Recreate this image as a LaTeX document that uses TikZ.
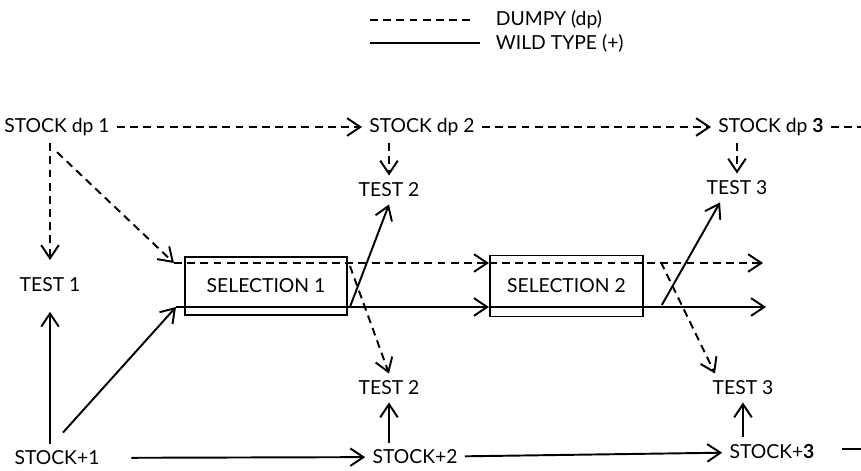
\documentclass[tikz,border=0pt]{standalone}
\usepackage{fontspec}
\setmainfont{Lato}
\usepackage{tikz}
\usetikzlibrary{arrows.meta, positioning, calc}

\begin{document}
\begin{tikzpicture}[x=0.02cm, y=-0.02cm,
    >={Straight Barb[length=7.5pt, width=10pt]},
    font=\fontsize{11}{13}\selectfont,
    dp/.style={line width=1.1pt, dash pattern=on 4.5pt off 3pt},
    wt/.style={line width=1.1pt},
    stocklbl/.style={inner sep=4pt},
    testlbl/.style={inner sep=4pt},
    selbox/.style={draw, line width=1.1pt, inner sep=0pt}]

  \useasboundingbox (0,0) rectangle (861,470);

  \node[inner sep=2pt, anchor=west] (dumpy) at (492,20) {DUMPY (dp)};
  \node[inner sep=2pt, anchor=west] (wild) at (492,43) {WILD TYPE (+)};
  \coordinate (legdp) at (370,20);
  \coordinate (legwt) at (370,43);

  \node[stocklbl] (sdp1) at (57,127) {STOCK dp 1};
  \node[stocklbl] (sdp2) at (422,127) {STOCK dp 2};
  \node[stocklbl] (sdp3) at (771,127) {STOCK dp \textbf{3}};

  \node[stocklbl] (sp1) at (57,458) {STOCK+1};
  \node[stocklbl] (sp2) at (415,457) {STOCK+2};
  \node[stocklbl] (sp3) at (772,452) {STOCK+\textbf{3}};

  \node[testlbl] (test1) at (50,285) {TEST 1};
  \node[testlbl] (test2a) at (389,190) {TEST 2};
  \node[testlbl] (test2b) at (389,388) {TEST 2};
  \node[testlbl] (test3a) at (737,188) {TEST 3};
  \node[testlbl] (test3b) at (743,388) {TEST 3};

  \node[selbox, minimum width=3.24cm, minimum height=1.16cm]
        (sel1) at (266,286) {SELECTION 1};
  \node[selbox, minimum width=3.06cm, minimum height=1.22cm,
        right=2.82cm of sel1] (sel2) {SELECTION 2};

  \coordinate (dpbend) at (174,263);
  \coordinate (wtbend) at (176,307);
  \coordinate (dpend) at (763,263);
  \coordinate (wtend) at (766,307);
  \coordinate (dprim) at (861,127);
  \coordinate (wtrim) at (861,449);

  \draw[dp] (legdp) -- ($(dumpy.west)+(-17,0)$);
  \draw[wt] (legwt) -- ($(wild.west)+(-12,0)$);

  \draw[dp, ->] (sdp1) -- (sdp2);
  \draw[dp, ->] (sdp2) -- (sdp3);
  \draw[dp] (sdp3) -- (dprim);
  \draw[dp, ->, shorten >=6pt] (test1.north |- sdp1.south) -- (test1.north);
  \draw[dp, ->] ($(sdp1.south)+(0,9)$) -- (dpbend);
  \draw[dp, ->] (test2a.north |- sdp2.south) -- (test2a.north);
  \draw[dp, ->] (test3a.north |- sdp3.south) -- (test3a.north);

  \draw[dp, ->] (dpbend) -- (dpbend -| sel2.west);
  \draw[dp, ->] (dpbend -| sel2.west) -- (dpend);
  \draw[wt, ->] (wtbend) -- (wtbend -| sel2.west);
  \draw[wt, ->] (wtbend -| sel2.west) -- (wtend);

  \draw[wt, ->, shorten >=7pt] (test1.south |- sp1.north) -- (test1.south);
  \draw[wt, ->] ($(sp1.north)+(6,-11)$) -- (wtbend);
  \draw[wt, ->, shorten <=14pt] (sp1) -- (sp2);
  \draw[wt, ->] (sp2) -- (sp3);
  \draw[wt] ($(sp3.east |- wtrim)+(20,0)$) -- (wtrim);
  \draw[wt, ->] (test2b.south |- sp2.north) -- (test2b.south);
  \draw[wt, ->] (test3b.south |- sp3.north) -- (test3b.south);

  \draw[wt, ->] ($(sel1.east |- wtbend)+(2,0)$) -- (test2a.south);
  \draw[dp, ->] ($(sel1.east |- dpbend)+(2,3)$) -- (test2b.north);
  \draw[wt, ->] ($(sel2.east |- wtbend)+(18,-2)$) -- ($(test3a.south)+(-17,0)$);
  \draw[dp, ->] ($(sel2.east |- dpbend)+(17,-1)$) -- ($(test3b.north)+(-28,0)$);
\end{tikzpicture}
\end{document}
